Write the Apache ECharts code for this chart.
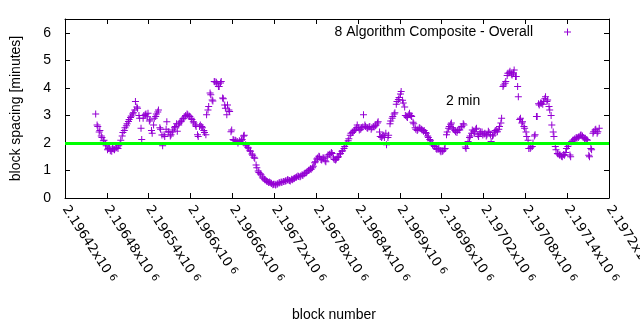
<!DOCTYPE html>
<html>
<head>
<meta charset="utf-8">
<script src="https://cdn.jsdelivr.net/npm/echarts@6/dist/echarts.min.js"></script>
<style>
  html, body { margin: 0; padding: 0; background: #fff; }
  #chart { width: 640px; height: 330px; }
</style>
</head>
<body>
<div id="chart"></div>
<script>
// ---- data ----
const seriesName = '8 Algorithm Composite - Overall';
const targetLabel = '2 min';
const targetSpacing = 2;
const firstBlock = 2196464;
const blockStep = 3;
// readings at blocks firstBlock + 3*i
const spacingMinutesA = [
  3.05,2.6,2.45,2.2,2.1,1.9,1.8,1.72,1.8,1.75,
  1.84,1.9,2.1,2.38,2.55,2.7,2.85,2.98,3.1,3.5,
  3.26,2.9,2.12,3.0,3.05,3.08,2.84,2.35,2.9,3.05,
  3.2,2.5,1.9,2.23,2.77,2.4,2.3,2.47,2.6,2.42,
  2.72,2.8,2.9,3.0,3.02,2.96,2.85,2.72,2.6,2.23,
  2.65,2.55,2.38,3.02,3.32,3.75,3.52,4.22,4.15,4.05,
  4.23,3.6,3.26,3.38,3.14,2.47,2.1,2.08,2.0,2.05,
  2.12,2.28,1.9,1.82,1.7,1.55,1.44,1.1,0.93,0.84,
  0.72,0.65,0.6,0.58,0.53,0.5,0.47,0.52,0.55,0.56,
  0.6,0.63,0.65,0.62,0.66,0.72,0.76,0.78,0.8,0.82,
  0.9,0.95,1.02,1.04,1.15,1.32,1.45,1.5,1.38,1.44,
  1.32,1.56,1.6,1.62,1.4,1.42,1.5,1.62,1.72,1.87,
  2.0,2.15,2.35,2.41,2.5,2.65,2.47,2.55,3.02,2.6,
  2.53,2.6,2.55,2.58,2.65,2.77,2.23,2.25,2.2,1.93,
  2.28,2.8,2.96,3.1,3.5,3.65,3.87,3.45,3.0,2.92,
  3.08,2.96,2.7,2.5,2.5,2.53,2.47,2.45,2.35,2.2,
  2.08,1.93,1.87,1.77,1.82,1.68,1.72,1.8,2.4,2.6,
  2.72,2.5,2.41,2.45,2.47,2.6,2.65,1.8,2.05,2.25,
  2.47,2.35,2.53,2.23,2.41,2.29,2.35,2.3,2.38,2.05,
  2.29,2.45,2.41,2.6,2.9,4.1,4.23,4.53,4.6,4.47,
  4.65,4.41,3.68,2.9,2.77,2.53,2.23,1.8,1.84,2.0,
  2.3,2.96,3.38,3.44,3.5,3.68,3.56,3.2,2.65,2.23,
  1.75,1.6,1.56,1.5,1.55,1.8,1.93,1.5,2.1,2.15,
  2.17,2.23,2.29,2.2,2.17,2.1,1.5,1.75,2.41,2.5,2.41
];
// readings at blocks firstBlock + 3*i + 2
const spacingMinutesB = [
  2.65,2.4,2.25,2.08,1.95,1.75,1.85,1.7,1.78,1.82,
  1.8,1.95,2.25,2.45,2.62,2.78,2.92,3.05,3.2,3.3,
  3.0,2.53,2.9,3.02,2.95,2.8,2.45,2.65,2.96,3.12,
  2.55,2.29,2.3,2.5,2.41,2.25,2.4,2.55,2.7,2.65,
  2.77,2.88,2.95,3.05,2.98,2.9,2.77,2.65,2.3,2.6,
  2.6,2.45,2.3,3.2,3.81,3.56,4.23,4.2,4.05,4.18,
  3.63,3.38,3.02,3.2,2.41,2.12,2.1,2.05,2.08,2.1,
  2.25,1.93,1.84,1.72,1.6,1.48,1.2,0.98,0.88,0.76,
  0.68,0.62,0.56,0.55,0.48,0.5,0.5,0.55,0.58,0.6,
  0.62,0.66,0.64,0.68,0.7,0.74,0.8,0.77,0.84,0.88,
  0.92,1.0,1.06,1.1,1.28,1.42,1.52,1.4,1.46,1.35,
  1.5,1.58,1.65,1.45,1.38,1.47,1.6,1.7,1.8,1.95,
  2.08,2.28,2.38,2.45,2.55,2.55,2.5,2.58,2.65,2.55,
  2.58,2.5,2.6,2.62,2.72,2.4,2.2,2.28,2.35,2.2,
  2.7,2.9,3.05,3.4,3.58,3.78,3.55,3.3,2.95,3.02,
  3.0,2.75,2.55,2.45,2.55,2.5,2.42,2.38,2.25,2.12,
  1.98,1.9,1.8,1.78,1.72,1.7,1.78,2.3,2.53,2.68,
  2.55,2.45,2.38,2.5,2.58,2.7,1.85,1.95,2.2,2.35,
  2.42,2.5,2.3,2.35,2.4,2.32,2.25,2.42,2.3,2.25,
  2.4,2.47,2.5,2.72,4.05,4.17,4.45,4.55,4.5,4.55,
  4.41,4.05,2.85,2.72,2.6,2.4,2.1,1.8,1.87,2.25,
  2.96,3.42,3.45,3.4,3.6,3.5,3.32,3.0,2.4,1.87,
  1.62,1.56,1.52,1.58,1.65,1.87,1.56,2.05,2.12,2.2,
  2.2,2.28,2.25,2.15,2.12,1.55,1.8,2.35,2.47,2.35,2.53
];
const offsetB = 2;
const xMin = 2196420, xMax = 2197200, xStep = 60;
const xTickLabels = ['2.19642','2.19648','2.19654','2.1966','2.19666','2.19672','2.19678',
                     '2.19684','2.1969','2.19696','2.19702','2.19708','2.19714','2.1972'];
const yTickLabels = ['0','1','2','3','4','5','6'];
const yMax = 6.5;

// ---- chart ----
const points = [];
spacingMinutesA.forEach((v, i) => {
  points.push([firstBlock + i * blockStep, v]);
  if (i < spacingMinutesB.length) points.push([firstBlock + i * blockStep + offsetB, spacingMinutesB[i]]);
});
const plusPath = 'path://M3,0h1v7h-1zM0,3h7v1h-7z';
const purple = '#9400d3';
const font = 'Liberation Sans, Arial, sans-serif';

const chart = echarts.init(document.getElementById('chart'), null, { renderer: 'canvas' });
const axisCommon = {
  axisLine: { show: true, onZero: false, lineStyle: { color: '#000', width: 1 } },
  axisTick: { show: true, inside: true, length: 5, lineStyle: { color: '#000' } },
  splitLine: { show: false }
};
chart.setOption({
  animation: false,
  backgroundColor: '#fff',
  grid: { left: 65, right: 31, top: 19, bottom: 132, containLabel: false, outerBoundsMode: 'none' },
  legend: {
    data: [seriesName],
    right: 69, top: 25, padding: 0,
    align: 'right',
    icon: plusPath,
    itemWidth: 7, itemHeight: 7,
    textStyle: { fontFamily: font, fontSize: 14, color: '#000', padding: [0, 26, 0, 0] }
  },
  xAxis: [
    Object.assign({}, axisCommon, {
      type: 'value', position: 'bottom', min: xMin, max: xMax, interval: xStep,
      name: 'block number', nameLocation: 'middle', nameGap: 110,
      nameTextStyle: { fontFamily: font, fontSize: 14, color: '#000', padding: [0, 6, 0, 0] },
      axisLabel: {
        show: true, rotate: -57, margin: 9,
        fontFamily: 'DejaVu Sans', fontSize: 13, color: '#000',
        formatter: function (v) {
          const idx = Math.round((v - xMin) / xStep);
          return (xTickLabels[idx] || '') + 'x10 {sup|6}';
        },
        rich: { sup: { fontFamily: 'DejaVu Sans', fontSize: 10, color: '#000', verticalAlign: 'top' } }
      }
    }),
    Object.assign({}, axisCommon, {
      type: 'value', position: 'top', min: xMin, max: xMax, interval: xStep,
      axisLabel: { show: false }
    })
  ],
  yAxis: [
    Object.assign({}, axisCommon, {
      type: 'value', position: 'left', min: 0, max: yMax, interval: 1,
      name: 'block spacing [minutes]', nameLocation: 'middle', nameGap: 42,
      nameTextStyle: { fontFamily: font, fontSize: 14, color: '#000' },
      axisLabel: {
        margin: 14, fontFamily: font, fontSize: 14, color: '#000',
        formatter: function (v) {
          return Number.isInteger(v) ? (yTickLabels[v] || '') : '';
        }
      }
    }),
    Object.assign({}, axisCommon, {
      type: 'value', position: 'right', min: 0, max: yMax, interval: 1,
      axisLabel: { show: false }
    })
  ],
  graphic: [{
    type: 'text', left: 446, top: 94,
    style: { text: targetLabel, font: '14px ' + font, fill: '#000' }
  }],
  series: [{
    name: seriesName,
    type: 'scatter',
    xAxisIndex: 0, yAxisIndex: 0,
    symbol: plusPath,
    symbolSize: 7,
    itemStyle: { color: purple, opacity: 1 },
    data: points,
    markLine: {
      silent: true, symbol: 'none',
      label: { show: false },
      lineStyle: { color: '#00ff00', width: 3, type: 'solid' },
      data: [{ yAxis: targetSpacing }]
    }
  }]
});
</script>
</body>
</html>
